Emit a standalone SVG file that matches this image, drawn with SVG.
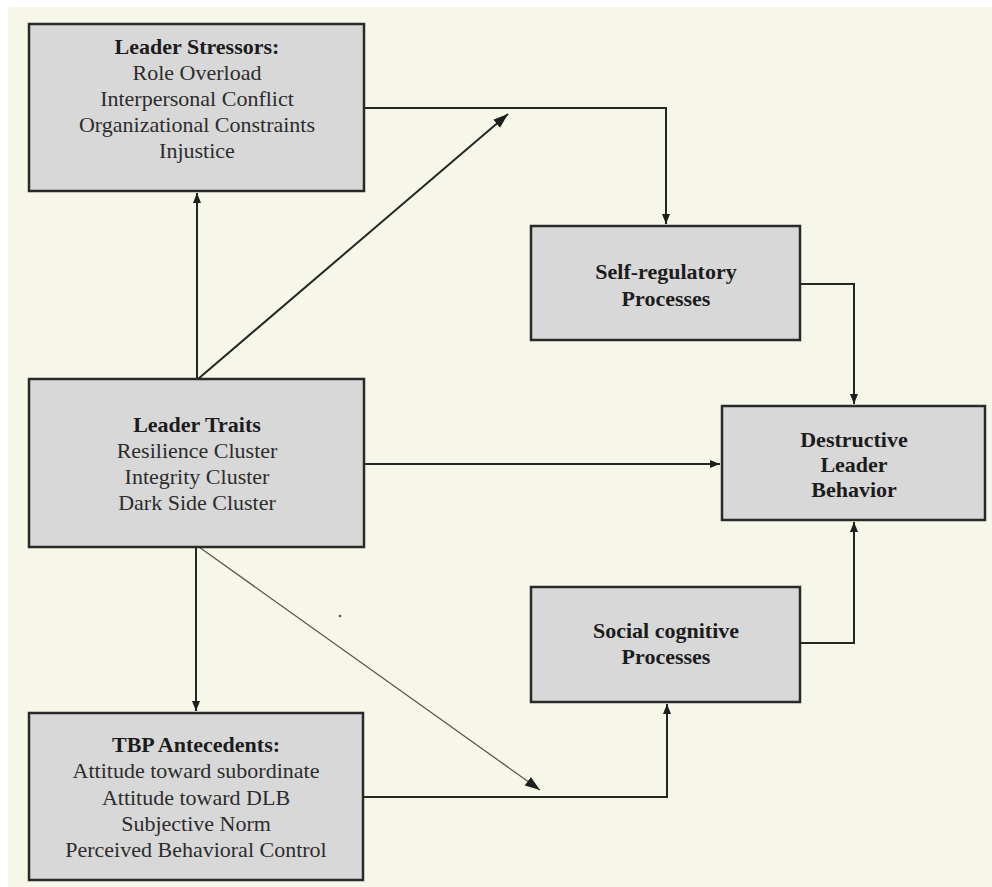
<svg xmlns="http://www.w3.org/2000/svg" width="992" height="887" viewBox="0 0 992 887">
<defs>
<marker id="ah" viewBox="0 0 10 10" refX="10" refY="5" markerWidth="10" markerHeight="10" markerUnits="userSpaceOnUse" orient="auto">
<path d="M0,1 L10,5 L0,9 z" fill="#1e1e1e"/>
</marker>
<marker id="ahs" viewBox="0 0 10 10" refX="10" refY="5" markerWidth="15" markerHeight="15" markerUnits="userSpaceOnUse" orient="auto">
<path d="M0,1.5 L10,5 L0,8.5 z" fill="#1e1e1e"/>
</marker>
<style>
.box{fill:#d8d8d8;stroke:#2a2a2a;stroke-width:2.5}
.c{fill:none;stroke:#262626;stroke-width:2}
.thin{fill:none;stroke:#5a5a4a;stroke-width:1.3}
text{font-family:"Liberation Serif","Times New Roman",serif;font-size:22px;fill:#2c2c2c;text-anchor:middle}
.b{font-weight:bold;fill:#1c1c1c}
</style>
</defs>
<rect x="0" y="0" width="992" height="887" fill="#ffffff"/>
<rect x="8" y="7" width="984" height="880" fill="#f6f6e9"/>
<g id="connectors">
<polyline class="c" points="364,108 666,108 666,224" marker-end="url(#ah)"/>
<polyline class="c" points="800,284 854,284 854,404" marker-end="url(#ah)"/>
<line class="c" x1="197" y1="379" x2="197" y2="193" marker-end="url(#ah)"/>
<line class="c" x1="198" y1="379" x2="508" y2="114" marker-end="url(#ahs)"/>
<line class="c" x1="364" y1="464" x2="720" y2="464" marker-end="url(#ah)"/>
<line class="c" x1="196" y1="547" x2="196" y2="711" marker-end="url(#ah)"/>
<line class="thin" x1="199" y1="547" x2="540" y2="790" marker-end="url(#ahs)"/>
<polyline class="c" points="363,797 667,797 667,704" marker-end="url(#ah)"/>
<polyline class="c" points="800,643 854,643 854,522" marker-end="url(#ah)"/>
<circle cx="340" cy="616" r="1.3" fill="#555"/>
</g>
<g id="stressors">
<rect class="box" x="29" y="24" width="335" height="167"/>
<text class="b" x="197" y="54">Leader Stressors:</text>
<text x="197" y="80">Role Overload</text>
<text x="197" y="106">Interpersonal Conflict</text>
<text x="197" y="132">Organizational Constraints</text>
<text x="197" y="158">Injustice</text>
</g>
<g id="selfreg">
<rect class="box" x="531" y="226" width="269" height="114"/>
<text class="b" x="666" y="279">Self-regulatory</text>
<text class="b" x="666" y="306">Processes</text>
</g>
<g id="traits">
<rect class="box" x="29" y="379" width="335" height="168"/>
<text class="b" x="197" y="432">Leader Traits</text>
<text x="197" y="458">Resilience Cluster</text>
<text x="197" y="484">Integrity Cluster</text>
<text x="197" y="510">Dark Side Cluster</text>
</g>
<g id="destructive">
<rect class="box" x="722" y="406" width="263" height="114"/>
<text class="b" x="854" y="447">Destructive</text>
<text class="b" x="854" y="472">Leader</text>
<text class="b" x="854" y="497">Behavior</text>
</g>
<g id="social">
<rect class="box" x="531" y="587" width="269" height="115"/>
<text class="b" x="666" y="638">Social cognitive</text>
<text class="b" x="666" y="664">Processes</text>
</g>
<g id="tbp">
<rect class="box" x="29" y="713" width="334" height="167"/>
<text class="b" x="196" y="752">TBP Antecedents:</text>
<text x="196" y="778">Attitude toward subordinate</text>
<text x="196" y="805">Attitude toward DLB</text>
<text x="196" y="831">Subjective Norm</text>
<text x="196" y="857">Perceived Behavioral Control</text>
</g>
</svg>
